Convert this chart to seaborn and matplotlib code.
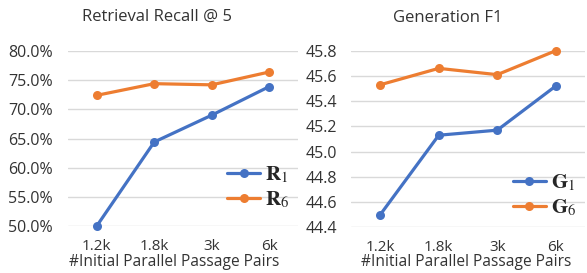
import matplotlib
matplotlib.use("Agg")
import matplotlib.pyplot as plt
import seaborn as sns
import pandas as pd

# data
pairs = ["1.2k", "1.8k", "3k", "6k"]
r1 = [50.0, 64.4, 69.0, 73.9]
r6 = [72.4, 74.4, 74.2, 76.4]
g1 = [44.50, 45.13, 45.17, 45.52]
g6 = [45.53, 45.66, 45.61, 45.80]

blue = "#4472C4"
orange = "#ED7D31"
txt = "#333333"

sns.set_theme(style="white")
plt.rcParams["font.family"] = ["Open Sans", "DejaVu Sans"]
plt.rcParams["mathtext.fontset"] = "stix"

fig = plt.figure(figsize=(5.87, 2.73), dpi=100)
ax1 = fig.add_axes([68 / 587, 1 - 226 / 273, 230 / 587, 175 / 273])
ax2 = fig.add_axes([351 / 587, 1 - 227.3 / 273, 234 / 587, 176.6 / 273])


def panel(ax, a, b, la, lb, ylim, ticks, fmt, ypad):
    df = pd.DataFrame({"x": pairs, "a": a, "b": b})
    sns.lineplot(data=df, x="x", y="a", ax=ax, color=blue, marker="o",
                 markersize=6.5, markeredgewidth=0, linewidth=2.3, label=la,
                 sort=False, clip_on=False)
    sns.lineplot(data=df, x="x", y="b", ax=ax, color=orange, marker="o",
                 markersize=6.5, markeredgewidth=0, linewidth=2.3, label=lb,
                 sort=False, clip_on=False)
    ax.set_xlim(-0.5, 3.5)
    ax.set_ylim(*ylim)
    ax.set_yticks(ticks)
    ax.set_yticklabels([fmt(t) for t in ticks])
    ax.grid(axis="y", color="#D9D9D9", linewidth=1)
    ax.set_axisbelow(True)
    for s in ax.spines.values():
        s.set_visible(False)
    ax.tick_params(axis="y", length=0, labelsize=11.5, colors=txt, pad=ypad)
    ax.tick_params(axis="x", length=0, labelsize=11, colors=txt, pad=9)
    ax.set_xlabel("")
    ax.set_ylabel("")


panel(ax1, r1, r6, r"$\mathbf{R}_1$", r"$\mathbf{R}_6$", (50, 80),
      [50, 55, 60, 65, 70, 75, 80], lambda t: f"{t:.1f}%", 11)
panel(ax2, g1, g6, r"$\mathbf{G}_1$", r"$\mathbf{G}_6$", (44.4, 45.8),
      [44.4, 44.6, 44.8, 45.0, 45.2, 45.4, 45.6, 45.8], lambda t: f"{t:.1f}", 10)

for ax, anchor in [(ax1, (1.0, 0.40)), (ax2, (1.0, 0.36))]:
    ax.legend(loc="upper right", bbox_to_anchor=anchor, frameon=False,
              fontsize=15, handlelength=1.6, handletextpad=0.25,
              labelspacing=0.2, borderaxespad=0)

fig.text(157 / 587, 1 - 17 / 273, "Retrieval Recall @ 5", ha="center",
         va="center", fontsize=12, color=txt)
fig.text(448 / 587, 1 - 18 / 273, "Generation F1", ha="center",
         va="center", fontsize=12, color=txt)
fig.text(174 / 587, 1 - 262 / 273, "#Initial Parallel Passage Pairs",
         ha="center", va="center", fontsize=11.2, color=txt)
fig.text(466 / 587, 1 - 262 / 273, "#Initial Parallel Passage Pairs",
         ha="center", va="center", fontsize=11.2, color=txt)

fig.savefig("out.png", dpi=100)
